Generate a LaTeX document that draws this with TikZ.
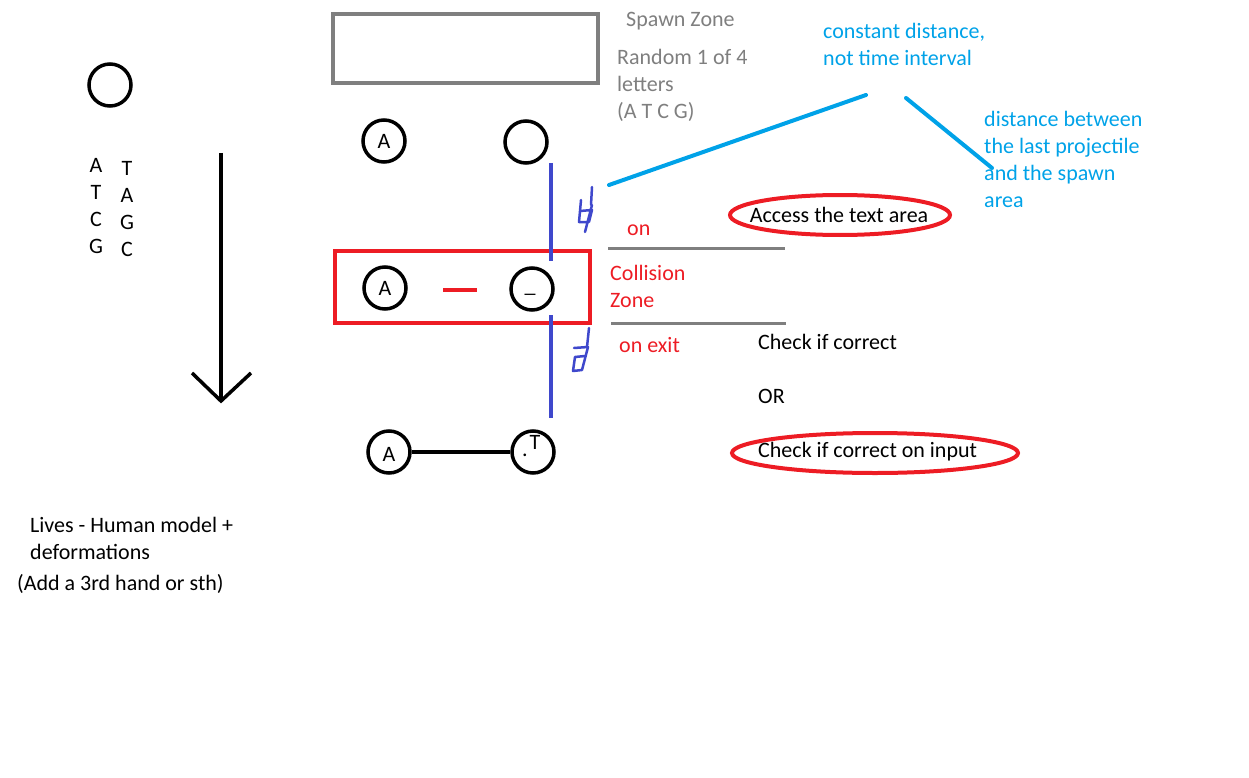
\documentclass[tikz,border=0pt]{standalone}
\usepackage{fontspec}
\setmainfont{Carlito}
\usetikzlibrary{shapes.geometric}
\definecolor{sgray}{HTML}{7F7F7F}
\definecolor{sred}{HTML}{ED1C24}
\definecolor{sblue}{HTML}{00A2E8}
\definecolor{sind}{HTML}{3F48CC}
\newcommand\myfs{\fontsize{22pt}{26pt}\selectfont}
\begin{document}
\begin{tikzpicture}[x=1pt,y=-1pt, font=\myfs,
  every node/.style={inner sep=0pt},
  ball/.style={circle, draw=black, line width=3.5pt, minimum size=42pt},
  txt/.style={anchor=mid west, yshift=-3pt},
  graytxt/.style={txt, text=sgray},
  redtxt/.style={txt, text=sred},
  bluetxt/.style={txt, text=sblue},
  redoval/.style={ellipse, draw=sred, line width=4pt},
  grayline/.style={draw=sgray, line width=3pt},
  blueline/.style={draw=sblue, line width=4pt, line cap=round},
  indline/.style={draw=sind, line width=4pt},
  scrib/.style={draw=sind, line width=2.5pt, line cap=round, line join=round}]
\useasboundingbox (0,0) rectangle (1249,778);

% left circle and letters
\node[ball] (c0) at (110,85) {};
\node (l1) at (96,165) {A};
\node (l2) at (96,192) {T};
\node (l3) at (96,219) {C};
\node (l4) at (96,246) {G};
\node (r1) at (127,168) {T};
\node (r2) at (127,195) {A};
\node (r3) at (127,222) {G};
\node (r4) at (127,249) {C};

% down arrow
\coordinate (as) at (221,153);
\coordinate (ae) at (221,401);
\coordinate (al) at (192,373);
\coordinate (ar) at (251,373);
\draw[line width=3.5pt] (as) -- (ae);
\draw[line width=3.5pt, line join=miter] (al) -- (ae) -- (ar);

% spawn zone
\node[draw=sgray, line width=4pt, minimum width=265pt, minimum height=69pt] (spawn) at (465.5,48.5) {};
\node[graytxt] (sz) at (626,21) {Spawn Zone};
\node[graytxt] (rn1) at (617,59) {Random 1 of 4};
\node[graytxt] (rn2) at (617,86) {letters};
\node[graytxt] (rn3) at (617,113) {(A T C G)};

% top row
\node[ball] (a1) at (384,141) {A};
\node[ball] (b1) at (526,142) {};

% collision row
\node[draw=sred, line width=4pt, minimum width=255pt, minimum height=72pt] (cz) at (462.5,287) {};
\node[ball] (a2) at (385,288) {A};
\node[ball] (b2) at (532,289) {};
\node (us) at (530,294) {\_};
\coordinate (d1) at (443,290);
\coordinate (d2) at (477,290);
\draw[sred, line width=4.5pt] (d1) -- (d2);

% bottom row
\node[ball] (a3) at (389,452) {};
\node (a3t) at (389,454) {A};
\node[ball] (b3) at (533,452) {};
\node (b3t) at (535,442) {T};
\node (b3d) at (525,455) {.};
\draw[line width=3.5pt] (a3) -- (b3);

% blue vertical lines
\coordinate (v1) at (551,163);
\coordinate (v2) at (551,261);
\coordinate (v3) at (551,315);
\coordinate (v4) at (551,418);
\draw[indline] (v1) -- (v2);
\draw[indline] (v3) -- (v4);

% scribbles
\draw[scrib] (592,187) -- (591,205) (592,205) -- (585,232)
  (581,200) -- (579,222) -- (588,222) (580,211) -- (592,210) -- (589,222);
\draw[scrib] (589,328) -- (587,347) (574,348) -- (588,347) -- (582,370) -- (573,371) -- (575,357) -- (585,356);

% gray lines
\coordinate (g1) at (608,248);
\coordinate (g2) at (785,248);
\coordinate (g3) at (611,323);
\coordinate (g4) at (786,323);
\draw[grayline] (g1) -- (g2);
\draw[grayline] (g3) -- (g4);

% red labels
\node[redtxt] (on) at (627,230) {on};
\node[redtxt] (col1) at (610,275) {Collision};
\node[redtxt] (col2) at (610,302) {Zone};
\node[redtxt] (onex) at (619,347) {on exit};

% right texts
\node[redoval, minimum width=220pt, minimum height=40pt] (ov1) at (840,215) {};
\node (acc) at (839,215) {Access the text area};
\node[txt] (chk) at (758,344) {Check if correct};
\node[txt] (or) at (758,398) {OR};
\node[redoval, minimum width=286pt, minimum height=40pt] (ov2) at (875,453) {};
\node[txt] (chk2) at (758,452) {Check if correct on input};

% blue annotations
\node[bluetxt] (cd1) at (823,33) {constant distance,};
\node[bluetxt] (cd2) at (823,60) {not time interval};
\coordinate (bl1) at (609,185);
\coordinate (bl2) at (866,95);
\coordinate (bl3) at (906,98);
\coordinate (bl4) at (992,168);
\draw[blueline] (bl1) -- (bl2);
\draw[blueline] (bl3) -- (bl4);
\node[bluetxt] (db1) at (984,121) {distance between};
\node[bluetxt] (db2) at (984,148) {the last projectile};
\node[bluetxt] (db3) at (984,175) {and the spawn};
\node[bluetxt] (db4) at (984,202) {area};

% lives
\node[txt] (lv1) at (30,527) {Lives - Human model +};
\node[txt] (lv2) at (30,554) {deformations};
\node[txt] (lv3) at (17,585) {(Add a 3rd hand or sth)};
\end{tikzpicture}
\end{document}
